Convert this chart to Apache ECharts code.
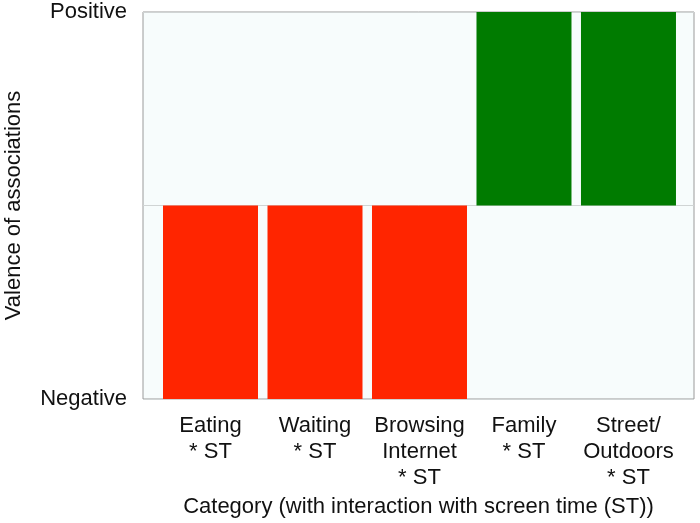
<!DOCTYPE html>
<html>
<head>
<meta charset="utf-8">
<script src="https://cdn.jsdelivr.net/npm/echarts@6/dist/echarts.min.js"></script>
<style>html,body{margin:0;padding:0;background:#fff}#c{width:700px;height:523px}</style>
</head>
<body>
<div id="c"></div>
<script>
const categories = ['Eating\n* ST', 'Waiting\n* ST', 'Browsing\nInternet\n* ST', 'Family\n* ST', 'Street/\nOutdoors\n* ST'];
const values = [-1, -1, -1, 1, 1];
const yTickLabels = {'-1': 'Negative', '0': '', '1': 'Positive'};
const positiveColor = '#007b00';
const negativeColor = '#ff2500';

const FONT = 'Liberation Sans';
const FS = 22;
const chart = echarts.init(document.getElementById('c'), null, {renderer: 'canvas'});
const positions = categories.map((c, i) => i + 1);
chart.setOption({
  animation: false,
  backgroundColor: '#ffffff',
  grid: {left: 143, top: 12, right: 6, bottom: 124, outerBoundsMode: 'none', containLabel: false, show: true, backgroundColor: '#f7fcfc', borderColor: '#9a9a9a', borderWidth: 1},
  xAxis: {
    type: 'value', min: 0.354, max: 5.627,
    name: 'Category (with interaction with screen time (ST))',
    nameLocation: 'middle', nameGap: 96,
    nameTextStyle: {fontFamily: FONT, fontSize: FS, color: '#111'},
    axisLine: {show: false}, axisTick: {show: false}, splitLine: {show: false},
    axisLabel: {
      customValues: positions,
      formatter: v => categories[Math.round(v) - 1] || '',
      fontFamily: FONT, fontSize: FS, lineHeight: 26, color: '#111', margin: 14
    }
  },
  yAxis: {
    type: 'value', min: -1, max: 1, interval: 1,
    name: 'Valence of associations',
    nameLocation: 'middle', nameGap: 118,
    nameTextStyle: {fontFamily: FONT, fontSize: FS, color: '#111'},
    axisLine: {show: false}, axisTick: {show: false},
    splitLine: {show: true, lineStyle: {color: '#d0d4d4', width: 1}},
    axisLabel: {formatter: v => yTickLabels[String(v)] ?? '', fontFamily: FONT, fontSize: FS, color: '#111', margin: 16}
  },
  series: [{
    type: 'bar',
    barWidth: 95,
    data: values.map((v, i) => ({value: [positions[i], v], itemStyle: {color: v >= 0 ? positiveColor : negativeColor}}))
  }]
});
</script>
</body>
</html>
